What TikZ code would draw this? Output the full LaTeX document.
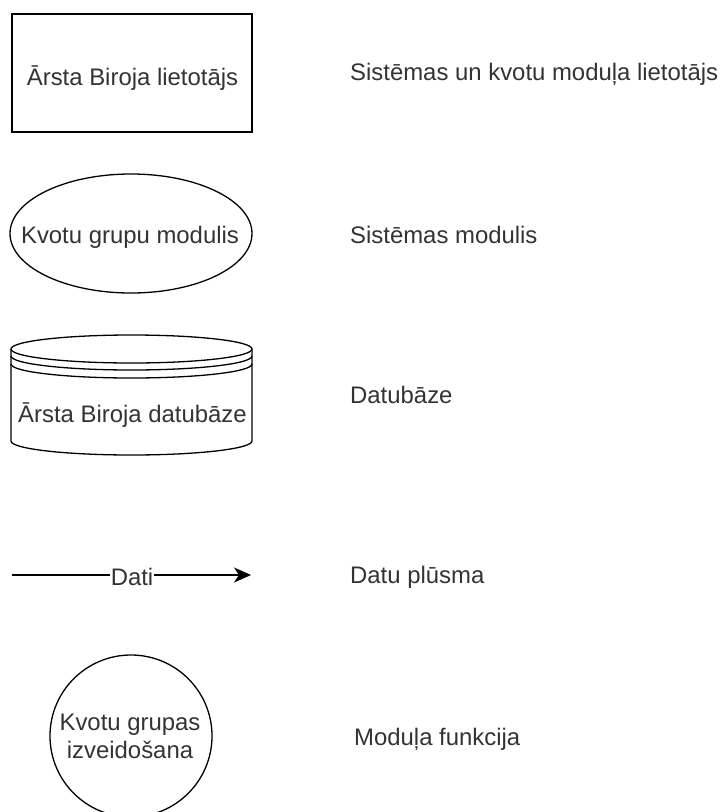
\documentclass[tikz,border=0pt]{standalone}
\usepackage{fontspec}
\setmainfont{Liberation Sans}
\usetikzlibrary{shapes.geometric,arrows.meta}
\definecolor{txt}{HTML}{333333}
\tikzset{
  shapeline/.style={draw=black, line width=1.3pt},
  lbl/.style={text=txt, font=\fontsize{23.9}{28}\selectfont, inner sep=0pt},
  legend/.style={lbl, anchor=base west},
  inner/.style={lbl, anchor=base},
}
\begin{document}
\begin{tikzpicture}[x=1pt,y=-1pt]
\useasboundingbox (0,0) rectangle (721,812);
% user box
\node[shapeline, rectangle, minimum width=240pt, minimum height=118pt] (user) at (132,73) {};
\node[inner] (usertxt) at (132.5,85) {Ārsta Biroja lietotājs};
% module ellipse
\node[shapeline, ellipse, minimum width=242pt, minimum height=119pt, inner sep=0pt] (mod) at (131,233.5) {};
\node[inner] (modtxt) at (130,243) {Kvotu grupu modulis};
% datastore cylinder
\draw[shapeline] (11,349) arc[start angle=180, end angle=-180, x radius=120.5pt, y radius=14pt];
\draw[shapeline] (11,356) arc[start angle=180, end angle=360, x radius=120.5pt, y radius=14pt];
\draw[shapeline] (11,364) arc[start angle=180, end angle=360, x radius=120.5pt, y radius=14pt];
\draw[shapeline] (11,349) -- (11,441) arc[start angle=180, end angle=360, x radius=120.5pt, y radius=14pt] -- (252,349);
\node[inner] (dbtxt) at (132.5,422) {Ārsta Biroja datubāze};
% data flow
\coordinate (fs) at (12,575);
\coordinate (fe) at (251,575);
\draw[line width=1.3pt, -{Stealth[length=17pt,width=15pt,inset=5pt]}] (fs) -- (fe);
\node[inner, fill=white, inner xsep=1pt] (dati) at (132,585) {Dati};
% function circle
\node[shapeline, circle, minimum size=162pt, inner sep=0pt] (fn) at (131,736) {};
\node[inner] (fntxt1) at (130,730) {Kvotu grupas};
\node[inner] (fntxt2) at (130,758) {izveidošana};
% legend labels
\node[legend] (l1) at (350,80) {Sistēmas un kvotu moduļa lietotājs};
\node[legend] (l2) at (350,243) {Sistēmas modulis};
\node[legend] (l3) at (350,403) {Datubāze};
\node[legend] (l4) at (350,583) {Datu plūsma};
\node[legend] (l5) at (354,745) {Moduļa funkcija};
\end{tikzpicture}
\end{document}
